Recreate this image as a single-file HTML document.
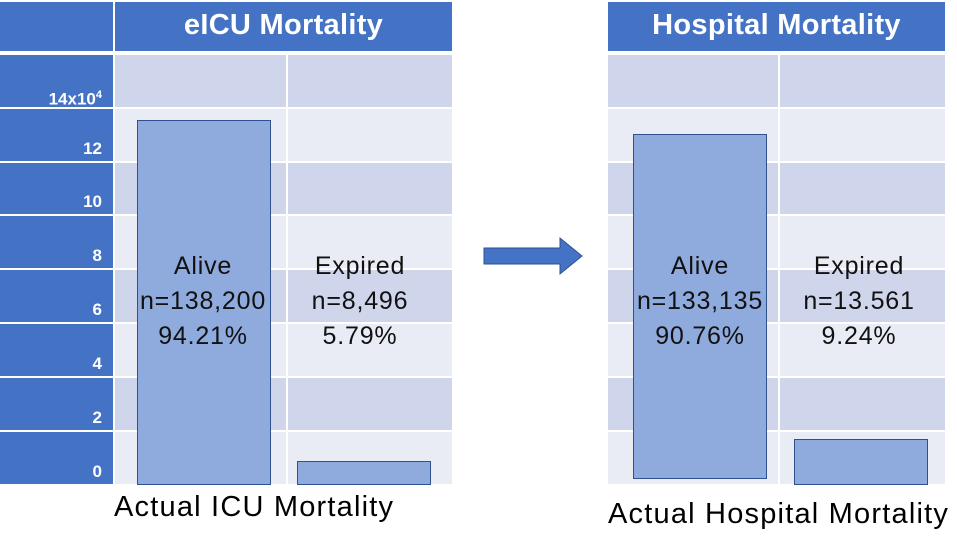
<!DOCTYPE html>
<html><head><style>
body{margin:0;width:957px;height:537px;background:#fff;position:relative;overflow:hidden;font-family:"Liberation Sans",sans-serif}
div{position:absolute;box-sizing:border-box}
.h{background:#4472c4;color:#fff;font-weight:bold;font-size:29px;text-align:center;line-height:47px;letter-spacing:0.3px}
.ax{background:#4472c4;color:#fff;font-weight:bold;font-size:17px;text-align:right;padding-right:11px}
.d{background:#cfd5ea}.l{background:#e9ebf5}
.bar{background:#8faadc;border:1.5px solid #2f528f}
.t{font-size:25px;color:#111;text-align:center;line-height:35px;letter-spacing:0.8px;white-space:nowrap}
.cap{font-size:29px;color:#000;white-space:nowrap;letter-spacing:1.2px}
</style></head><body>
<div class="ax" style="left:0;top:2px;width:113px;height:49px;padding:0"></div>
<div class="h" style="left:115px;top:2px;width:337px;height:49px">eICU Mortality</div>
<div class="h" style="left:608px;top:2px;width:337px;height:49px">Hospital Mortality</div>
<div id="rows"></div>
<script>
var ys=[55,109,163,216,270,324,378,432],labs=["14x10<sup style='font-size:11px'>4</sup>","12","10","8","6","4","2","0"],h="";
for(var i=0;i<8;i++){var y=ys[i],hh=(i<7?ys[i+1]:486)-y-2,c=i%2?"l":"d";
h+='<div class="ax" style="left:0;top:'+y+'px;width:113px;height:'+hh+'px;line-height:'+(2*hh-24)+'px">'+labs[i]+'</div>';
h+='<div class="'+c+'" style="left:115px;top:'+y+'px;width:171px;height:'+hh+'px"></div>';
h+='<div class="'+c+'" style="left:288px;top:'+y+'px;width:164px;height:'+hh+'px"></div>';
h+='<div class="'+c+'" style="left:608px;top:'+y+'px;width:170px;height:'+hh+'px"></div>';
h+='<div class="'+c+'" style="left:780px;top:'+y+'px;width:165px;height:'+hh+'px"></div>';}
document.getElementById("rows").outerHTML=h;
</script>
<div class="bar" style="left:137px;top:120px;width:134px;height:365px"></div>
<div class="bar" style="left:297px;top:461px;width:134px;height:24px"></div>
<div class="bar" style="left:633px;top:134px;width:134px;height:345px"></div>
<div class="bar" style="left:794px;top:439px;width:134px;height:46px"></div>
<div class="t" style="left:120px;top:249px;width:166px">Alive<br>n=138,200<br>94.21%</div>
<div class="t" style="left:278px;top:249px;width:164px">Expired<br>n=8,496<br>5.79%</div>
<div class="t" style="left:617px;top:249px;width:166px">Alive<br>n=133,135<br>90.76%</div>
<div class="t" style="left:776px;top:249px;width:166px">Expired<br>n=13.561<br>9.24%</div>
<svg style="position:absolute;left:483px;top:236px" width="100" height="40"><polygon points="1,12 77,12 77,2 99,20 77,38 77,28 1,28" fill="#4472c4" stroke="#2f528f" stroke-width="1"/></svg>
<div class="cap" style="left:114px;top:491px">Actual ICU Mortality</div>
<div class="cap" style="left:608px;top:498px">Actual Hospital Mortality</div>
</body></html>
